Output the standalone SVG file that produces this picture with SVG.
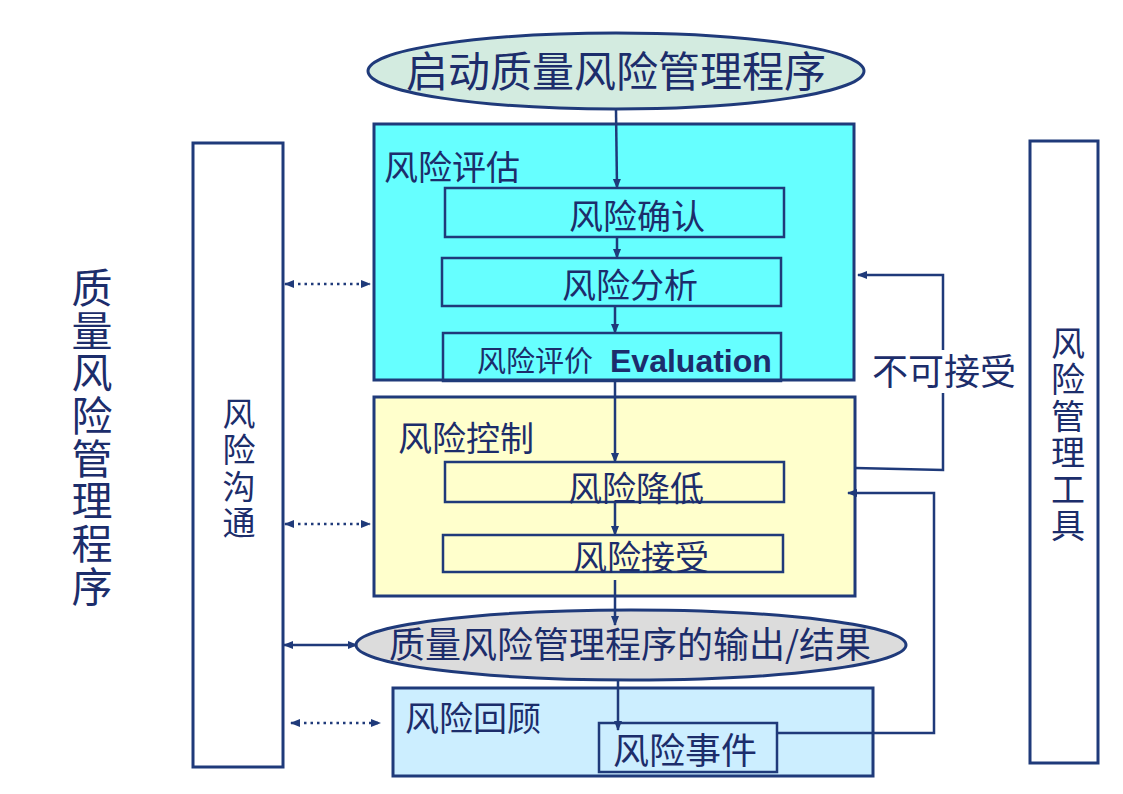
<svg xmlns="http://www.w3.org/2000/svg" width="1123" height="794" viewBox="0 0 1123 794">
<defs>
<marker id="ah" viewBox="0 0 10 10" refX="9" refY="5" markerWidth="10" markerHeight="10" markerUnits="userSpaceOnUse" orient="auto-start-reverse"><path d="M0,1 L10,5 L0,9 z" fill="#1f3a7a"/></marker>
<style>
.box{stroke:#1f3a7a;stroke-width:3}
.sub{stroke:#1f3a7a;stroke-width:2.5;fill:none}
.t{font-family:"Noto Sans CJK SC","Noto Sans",sans-serif;fill:#1c2d6b}
.m{text-anchor:middle}
.ln{stroke:#1f3a7a;stroke-width:2.5;fill:none}
.dot{stroke:#1f3a7a;stroke-width:2.5;stroke-dasharray:2.5 4;fill:none}
</style>
</defs>
<rect width="1123" height="794" fill="#ffffff"/>

<g id="start">
<ellipse cx="616" cy="71" rx="248" ry="38" fill="#d3ebe0" class="box"/>
<text class="t m" x="616" y="87" font-size="42">启动质量风险管理程序</text>
</g>

<g id="assessment">
<rect x="374" y="124" width="480" height="256" fill="#66ffff" class="box"/>
<text class="t" x="384" y="180" font-size="34">风险评估</text>
</g>
<g id="identify">
<rect x="445" y="188" width="339" height="49" class="sub"/>
<text class="t m" x="637" y="229" font-size="34">风险确认</text>
</g>
<g id="analysis">
<rect x="442" y="258" width="339" height="48" class="sub"/>
<text class="t m" x="630" y="298" font-size="34">风险分析</text>
</g>
<g id="evaluation">
<rect x="443" y="333" width="338" height="48" class="sub"/>
<text class="t" x="477" y="372" font-size="29">风险评价 <tspan x="610" font-family="Liberation Sans, Arial, sans-serif" font-weight="bold" font-size="32">Evaluation</tspan></text>
</g>

<g id="control">
<rect x="374" y="397" width="481" height="199" fill="#ffffcc" class="box"/>
<text class="t" x="398" y="451" font-size="34">风险控制</text>
</g>
<g id="reduce">
<rect x="445" y="462" width="339" height="40" class="sub"/>
<text class="t m" x="636" y="501" font-size="34">风险降低</text>
</g>
<g id="accept">
<rect x="443" y="535" width="340" height="37" class="sub"/>
<text class="t m" x="641" y="570" font-size="34">风险接受</text>
</g>

<g id="output">
<ellipse cx="631" cy="645" rx="275" ry="35" fill="#dcdcdc" class="box"/>
<text class="t m" x="630" y="658" font-size="36">质量风险管理程序的输出/结果</text>
</g>

<g id="review">
<rect x="393" y="688" width="480" height="88" fill="#cceeff" class="box"/>
<text class="t" x="405" y="731" font-size="34">风险回顾</text>
</g>
<g id="event">
<rect x="599" y="723" width="178" height="49" fill="#cceeff" class="sub"/>
<text class="t m" x="685" y="764" font-size="36">风险事件</text>
</g>

<g id="communication">
<rect x="193" y="143" width="90" height="624" fill="#ffffff" class="box"/>
<text class="t m" font-size="33"><tspan x="239" y="426">风</tspan><tspan x="239" y="462">险</tspan><tspan x="239" y="499">沟</tspan><tspan x="239" y="535">通</tspan></text>
</g>

<g id="tools">
<rect x="1030" y="141" width="68" height="622" fill="#ffffff" class="box"/>
<text class="t m" font-size="34"><tspan x="1068" y="356">风</tspan><tspan x="1068" y="392">险</tspan><tspan x="1068" y="429">管</tspan><tspan x="1068" y="465">理</tspan><tspan x="1068" y="502">工</tspan><tspan x="1068" y="538">具</tspan></text>
</g>

<g id="title">
<text class="t m" font-size="41"><tspan x="92" y="303">质</tspan><tspan x="92" y="346">量</tspan><tspan x="92" y="388">风</tspan><tspan x="92" y="431">险</tspan><tspan x="92" y="474">管</tspan><tspan x="92" y="516">理</tspan><tspan x="92" y="559">程</tspan><tspan x="92" y="602">序</tspan></text>
</g>

<g id="connectors">
<line class="ln" x1="616" y1="110" x2="617" y2="188" marker-end="url(#ah)"/>
<line class="ln" x1="617" y1="237" x2="617" y2="258" marker-end="url(#ah)"/>
<line class="ln" x1="615" y1="306" x2="615" y2="333" marker-end="url(#ah)"/>
<line class="ln" x1="615" y1="381" x2="615" y2="462" marker-end="url(#ah)"/>
<line class="ln" x1="615" y1="502" x2="615" y2="535" marker-end="url(#ah)"/>
<line class="ln" x1="615" y1="580" x2="615" y2="625" marker-end="url(#ah)"/>
<line class="ln" x1="618" y1="680" x2="618" y2="730" marker-end="url(#ah)"/>
<polyline class="ln" points="855,468 943,470 943,393"/>
<polyline class="ln" points="943,350 943,275 858,275" marker-end="url(#ah)"/>
<polyline class="ln" points="777,733 934,733 934,493 848,493" marker-end="url(#ah)"/>
<line class="dot" x1="285" y1="284" x2="370" y2="284" marker-start="url(#ah)" marker-end="url(#ah)"/>
<line class="dot" x1="285" y1="524" x2="370" y2="524" marker-start="url(#ah)" marker-end="url(#ah)"/>
<line class="dot" x1="291" y1="723" x2="380" y2="723" marker-start="url(#ah)" marker-end="url(#ah)"/>
<line class="ln" x1="284" y1="645" x2="357" y2="645" marker-start="url(#ah)" marker-end="url(#ah)"/>
<text class="t" x="872" y="385" font-size="36">不可接受</text>
</g>
</svg>
